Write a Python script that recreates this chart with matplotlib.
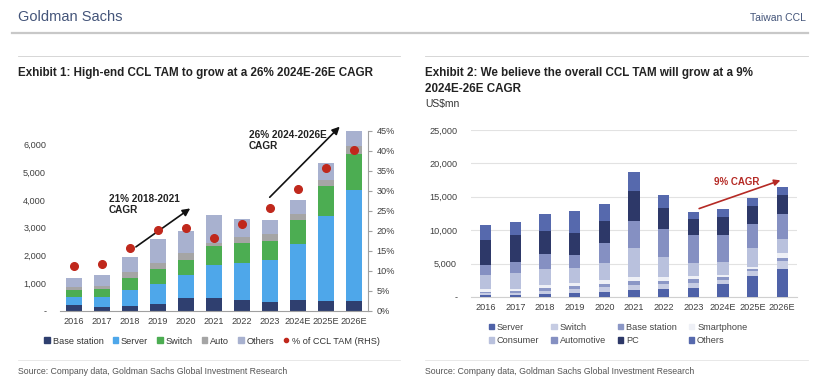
import numpy as np
import matplotlib
matplotlib.use("Agg")
import matplotlib.pyplot as plt
from matplotlib.patches import Patch
from matplotlib.lines import Line2D

plt.rcParams['font.family'] = ['Liberation Sans', 'DejaVu Sans']
NARROW = ['Liberation Sans Narrow', 'Liberation Sans', 'DejaVu Sans']

years = ['2016', '2017', '2018', '2019', '2020', '2021', '2022', '2023',
         '2024E', '2025E', '2026E']

# Exhibit 1: high-end CCL TAM (US$mn) and share of total CCL TAM (%)
hi_base_station = [215, 155, 190, 250, 455, 480, 395, 325, 405, 360, 360]
hi_server = [300, 345, 550, 720, 825, 1185, 1340, 1495, 2015, 3065, 3990]
hi_switch = [240, 290, 460, 540, 550, 685, 695, 710, 850, 1065, 1315]
hi_auto = [120, 120, 190, 200, 270, 100, 240, 235, 230, 240, 265]
hi_others = [325, 395, 560, 880, 790, 990, 635, 515, 510, 610, 570]
pct_of_tam = [11.3, 11.8, 15.8, 20.1, 20.6, 18.3, 21.8, 25.8, 30.4, 35.8, 40.2]

# Exhibit 2: overall CCL TAM by application (US$mn)
server = [250, 250, 500, 650, 800, 1100, 1200, 1400, 2000, 3100, 4150]
switch = [300, 350, 450, 550, 700, 700, 700, 700, 550, 800, 1300]
base_station = [250, 250, 350, 450, 500, 600, 550, 550, 400, 300, 350]
smartphone = [350, 370, 430, 440, 500, 640, 590, 540, 340, 340, 740]
consumer = [2200, 2350, 2450, 2300, 2640, 4300, 2900, 1950, 2000, 2750, 2090]
automotive = [1500, 1630, 2200, 1940, 2890, 3990, 4240, 4090, 4040, 3640, 3850]
pc = [3750, 4140, 3520, 3260, 3350, 4590, 3190, 2400, 2700, 2740, 2840]
others = [2150, 1880, 2550, 3310, 2540, 2840, 1850, 1100, 1090, 1200, 1200]

W, H = 828, 384
fig = plt.figure(figsize=(W / 100, H / 100), dpi=100)
fig.patch.set_facecolor('white')

head_col = '#44557a'
fig.text(18 / W, 1 - 17 / H, 'Goldman Sachs', fontsize=10.5, color=head_col,
         family=NARROW, va='center', ha='left')
fig.text(806 / W, 1 - 18 / H, 'Taiwan CCL', fontsize=7.5, color=head_col,
         family=NARROW, va='center', ha='right')
fig.add_artist(Line2D([12 / W, 808 / W], [1 - 33 / H] * 2, color='#c8c8c8', lw=1.6))
fig.add_artist(Line2D([18 / W, 400 / W], [1 - 56 / H] * 2, color='#d0d0d0', lw=0.6))
fig.add_artist(Line2D([425 / W, 808 / W], [1 - 56 / H] * 2, color='#d0d0d0', lw=0.6))
fig.add_artist(Line2D([18 / W, 400 / W], [1 - 360 / H] * 2, color='#e4e4e4', lw=0.6))
fig.add_artist(Line2D([425 / W, 808 / W], [1 - 360 / H] * 2, color='#e4e4e4', lw=0.6))

fig.text(18 / W, 1 - 73 / H, 'Exhibit 1: High-end CCL TAM to grow at a 26% 2024E-26E CAGR',
         fontsize=8.4, weight='bold', family=NARROW, color='#222222', va='center')
fig.text(425 / W, 1 - 73 / H, 'Exhibit 2: We believe the overall CCL TAM will grow at a 9%',
         fontsize=8.4, weight='bold', family=NARROW, color='#222222', va='center')
fig.text(425 / W, 1 - 89 / H, '2024E-26E CAGR',
         fontsize=8.4, weight='bold', family=NARROW, color='#222222', va='center')
fig.text(425 / W, 1 - 104 / H, 'US$mn', fontsize=7.5, family=NARROW,
         color='#333333', va='center')

src = 'Source: Company data, Goldman Sachs Global Investment Research'
fig.text(18 / W, 1 - 372 / H, src, fontsize=6.3, family=NARROW, color='#555555', va='center')
fig.text(425 / W, 1 - 372 / H, src, fontsize=6.3, family=NARROW, color='#555555', va='center')

x = np.arange(len(years))
tick_fs = 6.6
tick_col = '#404040'


def thousands(v, pos=None):
    return '-' if v == 0 else f'{int(v):,}'


# ---- Exhibit 1 ----
ax1 = fig.add_axes([60 / W, 1 - 311 / H, 308 / W, 180.3 / H])
cols1 = ['#2f3f6f', '#4ea7ea', '#4cad52', '#a5a5a5', '#a8b1cf']
names1 = ['Base station', 'Server', 'Switch', 'Auto', 'Others']
series1 = [hi_base_station, hi_server, hi_switch, hi_auto, hi_others]
bottom = np.zeros(len(years))
for vals, c in zip(series1, cols1):
    ax1.bar(x, vals, 0.58, bottom=bottom, color=c, linewidth=0)
    bottom += np.array(vals)
ax1.set_xlim(-0.5, len(years) - 0.5)
ax1.set_ylim(0, 6490)
ax1.set_yticks(range(0, 7000, 1000))
ax1.yaxis.set_major_formatter(plt.FuncFormatter(thousands))
ax1.set_xticks(x)
ax1.set_xticklabels(years)
ax1.tick_params(axis='both', labelsize=tick_fs, colors=tick_col, length=0, pad=4)
ax1.tick_params(axis='y', pad=10)
for s in ['left', 'top', 'right']:
    ax1.spines[s].set_visible(False)
ax1.spines['bottom'].set_color('#a0a0a0')

ax1r = ax1.twinx()
ax1r.plot(x, pct_of_tam, 'o', color='#c0281c', markersize=5.5, zorder=5)
ax1r.set_ylim(0, 45)
ax1r.set_yticks(range(0, 50, 5))
ax1r.yaxis.set_major_formatter(plt.FuncFormatter(lambda v, p: f'{int(v)}%'))
ax1r.tick_params(axis='y', labelsize=tick_fs, colors=tick_col, length=3, direction='out',
                 color='#a0a0a0', pad=3)
for s in ['left', 'top', 'bottom']:
    ax1r.spines[s].set_visible(False)
ax1r.spines['right'].set_color('#a0a0a0')

ax1r.annotate('', xy=(4.23, 26.0), xytext=(2.13, 15.6),
              arrowprops=dict(arrowstyle='-|>', color='#111111', lw=1.2, mutation_scale=11))
ax1r.annotate('', xy=(9.56, 46.5), xytext=(6.92, 27.9), annotation_clip=False,
              arrowprops=dict(arrowstyle='-|>', color='#111111', lw=1.2, mutation_scale=11))
ax1r.text(1.25, 29.2, '21% 2018-2021\nCAGR', fontsize=7.2, weight='bold', color='#222222',
          va='top', ha='left', linespacing=1.1)
ax1r.text(6.25, 45.2, '26% 2024-2026E\nCAGR', fontsize=7.2, weight='bold', color='#222222',
          va='top', ha='left', linespacing=1.1)

h1 = [Patch(color=c) for c in cols1] + [
    Line2D([], [], marker='o', ls='', color='#c0281c', markersize=3)]
fig.legend(h1, names1 + ['% of CCL TAM (RHS)'], loc='center',
           bbox_to_anchor=(212 / W, 1 - 341 / H), ncol=6, frameon=False,
           fontsize=6.6, handlelength=0.6, handleheight=0.6, handletextpad=0.3,
           columnspacing=1.0, labelcolor='#333333')

# ---- Exhibit 2 ----
ax2 = fig.add_axes([471 / W, 1 - 297 / H, 326 / W, 167 / H])
cols2 = ['#4f62a8', '#c6cce3', '#8b97c6', '#eef0f6', '#b9c1dd', '#8590c2', '#2d3868', '#5669ad']
names2 = ['Server', 'Switch', 'Base station', 'Smartphone', 'Consumer', 'Automotive', 'PC', 'Others']
series2 = [server, switch, base_station, smartphone, consumer, automotive, pc, others]
bottom = np.zeros(len(years))
for vals, c in zip(series2, cols2):
    ax2.bar(x, vals, 0.38, bottom=bottom, color=c, linewidth=0, zorder=3)
    bottom += np.array(vals)
ax2.set_xlim(-0.5, len(years) - 0.5)
ax2.set_ylim(0, 25000)
ax2.set_yticks(range(0, 30000, 5000))
ax2.yaxis.set_major_formatter(plt.FuncFormatter(thousands))
ax2.set_xticks(x)
ax2.set_xticklabels(years)
ax2.tick_params(axis='both', labelsize=tick_fs, colors=tick_col, length=0, pad=4)
ax2.tick_params(axis='y', pad=10)
ax2.grid(axis='y', color='#e2e2e2', lw=0.8, zorder=0)
for s in ['left', 'top', 'right']:
    ax2.spines[s].set_visible(False)
ax2.spines['bottom'].set_color('#d0d0d0')

ax2.annotate('', xy=(10.03, 17600), xytext=(7.11, 13100),
             arrowprops=dict(arrowstyle='-|>', color='#b52a25', lw=1.2, mutation_scale=9))
ax2.text(8.45, 17250, '9% CAGR', fontsize=7, weight='bold', color='#b52a25',
         ha='center', va='center')

order = [0, 4, 1, 5, 2, 6, 3, 7]
h2 = [Patch(color=cols2[i]) for i in order]
fig.legend(h2, [names2[i] for i in order], loc='center',
           bbox_to_anchor=(618 / W, 1 - 334 / H), ncol=4, frameon=False,
           fontsize=6.6, handlelength=0.6, handleheight=0.6, handletextpad=0.3,
           columnspacing=1.3, labelspacing=0.5, labelcolor='#444444')

fig.savefig('out.png', dpi=100, facecolor='white')
